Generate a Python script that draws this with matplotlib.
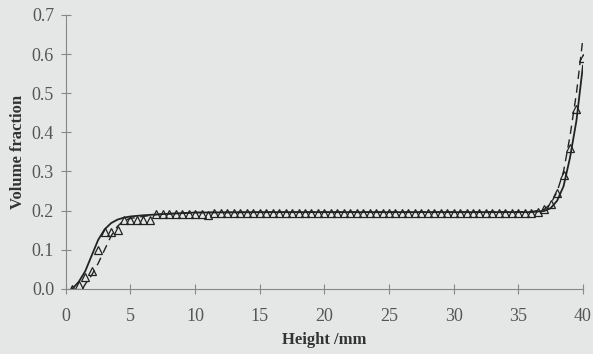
import numpy as np
import matplotlib.pyplot as plt

plt.rcParams['font.family'] = ['Liberation Serif', 'DejaVu Serif']

# Dati: curva continua (modello), tratteggiata e triangoli (simulazione)
solid_h = [0.5, 1.0, 1.5, 2.0, 2.5, 3.0, 3.5, 4.0, 4.5, 5.0, 6.0, 7.0, 8.0, 10.0,
           15.0, 20.0, 25.0, 30.0, 35.0, 36.0, 37.0, 37.5, 38.0, 38.5, 39.0, 39.5, 40.0]
solid_v = [0.0, 0.018, 0.045, 0.085, 0.125, 0.152, 0.168, 0.177, 0.182, 0.185, 0.188, 0.19, 0.192, 0.195,
           0.196, 0.196, 0.196, 0.196, 0.196, 0.196, 0.199, 0.206, 0.225, 0.262, 0.335, 0.43, 0.57]

dash_h = [1.3, 1.5, 2.0, 2.5, 3.0, 3.5, 4.0, 4.5, 5.0, 6.0, 7.0, 10.0,
          20.0, 30.0, 36.0, 37.0, 37.5, 38.0, 38.5, 39.0, 39.5, 40.0]
dash_v = [0.0, 0.012, 0.035, 0.065, 0.1, 0.135, 0.16, 0.175, 0.18, 0.185, 0.19, 0.195,
          0.196, 0.196, 0.197, 0.203, 0.217, 0.248, 0.30, 0.39, 0.50, 0.64]

tri_h = [0.5 * (i + 1) for i in range(80)]
tri_v = [0.0, 0.01, 0.03, 0.045, 0.10, 0.145, 0.145, 0.15, 0.175, 0.177,
         0.177, 0.177, 0.177, 0.19, 0.19, 0.19, 0.19, 0.19, 0.19, 0.19,
         0.19, 0.188, 0.193, 0.195, 0.195, 0.195, 0.195, 0.195, 0.195, 0.195,
         0.195, 0.195, 0.195, 0.195, 0.195, 0.195, 0.195, 0.195, 0.195, 0.195,
         0.195, 0.195, 0.195, 0.195, 0.195, 0.195, 0.195, 0.195, 0.195, 0.195,
         0.195, 0.195, 0.195, 0.195, 0.195, 0.195, 0.195, 0.195, 0.195, 0.195,
         0.195, 0.195, 0.195, 0.195, 0.195, 0.195, 0.195, 0.195, 0.195, 0.195,
         0.195, 0.195, 0.197, 0.205, 0.218, 0.245, 0.29, 0.36, 0.46, 0.59]

bg = '#e5e7e6'
fig = plt.figure(figsize=(5.93, 3.54), dpi=100, facecolor=bg)
ax = fig.add_axes([0.111, 0.184, 0.872, 0.774], facecolor=bg)

ax.plot(solid_h, solid_v, color='#222222', lw=1.3)
ax.plot(dash_h, dash_v, color='#222222', lw=1.0, dashes=(6, 4))
ax.plot(tri_h, tri_v, ls='none', marker='^', ms=5.5, mfc='none', mec='#222222', mew=0.9)

ax.set_xlim(0, 40)
ax.set_ylim(0, 0.7)
ax.set_xticks(range(0, 41, 5))
ax.set_yticks(np.arange(0, 0.71, 0.1))
ax.set_yticklabels(['%.1f' % v for v in np.arange(0, 0.71, 0.1)])

for s in ['top', 'right']:
    ax.spines[s].set_visible(False)
for s in ['left', 'bottom']:
    ax.spines[s].set_color('#888888')
    ax.spines[s].set_linewidth(0.8)
ax.tick_params(direction='inout', length=7, color='#888888', labelsize=13,
               labelcolor='#555555')
ax.tick_params(axis='x', pad=10)
ax.tick_params(axis='y', pad=5)

ax.set_xlabel('Height /mm', fontsize=12, fontweight='bold', color='#333333', labelpad=5)
ax.set_ylabel('Volume fraction', fontsize=12, fontweight='bold', color='#333333', labelpad=4)

fig.savefig('out.png', dpi=100, facecolor=bg)
